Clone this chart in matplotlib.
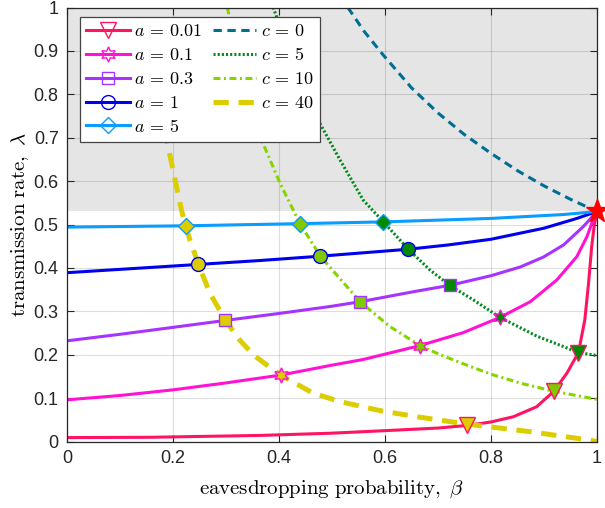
import matplotlib
matplotlib.use("Agg")
import matplotlib.pyplot as plt

plt.rcParams['mathtext.fontset'] = 'cm'
plt.rcParams['font.family'] = ['Liberation Sans', 'DejaVu Sans']
plt.rcParams['lines.scale_dashes'] = False

# solid curves, one per a  (beta, lambda)
a_labels = ["0.01", "0.1", "0.3", "1", "5"]
a_colors = ["#ff1462", "#ff12d4", "#a633ff", "#0000f0", "#0a9cff"]
a_markers = ["v", (6, 1, 0), "s", "o", "D"]
a_msize = [12, 11, 8, 10, 8.5]

a001_b = [0, 0.157, 0.364, 0.496, 0.6, 0.7, 0.755, 0.8, 0.842, 0.886, 0.918, 0.943, 0.965, 0.977, 0.984, 0.99, 0.995, 1]
a001_l = [0.009, 0.0097, 0.014, 0.019, 0.025, 0.031, 0.037, 0.045, 0.057, 0.080, 0.115, 0.157, 0.205, 0.280, 0.364, 0.449, 0.50, 0.53]
a01_b = [0, 0.1, 0.2, 0.3, 0.403, 0.496, 0.559, 0.666, 0.748, 0.817, 0.874, 0.924, 0.962, 0.981, 0.993, 1]
a01_l = [0.096, 0.106, 0.119, 0.135, 0.153, 0.175, 0.189, 0.221, 0.251, 0.286, 0.322, 0.372, 0.426, 0.472, 0.512, 0.53]
a03_b = [0, 0.1, 0.2, 0.299, 0.4, 0.496, 0.553, 0.653, 0.723, 0.8, 0.855, 0.899, 0.937, 0.974, 1]
a03_l = [0.232, 0.247, 0.263, 0.279, 0.295, 0.311, 0.322, 0.345, 0.36, 0.382, 0.402, 0.425, 0.453, 0.495, 0.53]
a1_b = [0, 0.157, 0.248, 0.364, 0.478, 0.644, 0.72, 0.8, 0.9, 0.962, 1]
a1_l = [0.389, 0.401, 0.408, 0.417, 0.427, 0.443, 0.453, 0.466, 0.4915, 0.514, 0.53]
a5_b = [0, 0.224, 0.44, 0.597, 0.8, 0.937, 1]
a5_l = [0.494, 0.497, 0.502, 0.506, 0.514, 0.523, 0.53]
a_beta = [a001_b, a01_b, a03_b, a1_b, a5_b]
a_lam = [a001_l, a01_l, a03_l, a1_l, a5_l]

# dashed curves, one per c
c_labels = ["0", "5", "10", "40"]
c_colors = ["#006e92", "#008a1c", "#88d400", "#dccd00"]
c_face = [None, "#008a00", "#80c800", "#dccc00"]
c_dashes = [(6, 4), (1.5, 1.5), (5, 2.5, 1.5, 2.5), (11, 7)]
c_lw = [2.2, 2.2, 2.2, 3.6]

c0_b = [0.53, 0.56, 0.597, 0.65, 0.7, 0.75, 0.8, 0.85, 0.9, 0.95, 1]
c0_l = [1.0, 0.946, 0.89, 0.815, 0.757, 0.707, 0.664, 0.624, 0.589, 0.558, 0.53]
c5_b = [0.389, 0.41, 0.44, 0.465, 0.515, 0.559, 0.597, 0.644, 0.685, 0.723, 0.767, 0.817, 0.886, 0.93, 0.965, 1]
c5_l = [1.0, 0.93, 0.84, 0.76, 0.649, 0.556, 0.506, 0.443, 0.395, 0.359, 0.326, 0.286, 0.243, 0.222, 0.205, 0.198]
c10_b = [0.3025, 0.32, 0.345, 0.367, 0.402, 0.44, 0.478, 0.553, 0.609, 0.666, 0.704, 0.75, 0.8, 0.86, 0.918, 1]
c10_l = [1.0, 0.9, 0.79, 0.695, 0.595, 0.501, 0.427, 0.322, 0.265, 0.221, 0.200, 0.178, 0.155, 0.133, 0.116, 0.097]
c40_b = [0.165, 0.175, 0.188, 0.2, 0.216, 0.224, 0.232, 0.248, 0.27, 0.299, 0.325, 0.352, 0.403, 0.465,
         0.515, 0.591, 0.66, 0.755, 0.874, 0.987, 1]
c40_l = [0.95, 0.80, 0.695, 0.626, 0.533, 0.497, 0.464, 0.408, 0.341, 0.279, 0.235, 0.199, 0.153, 0.111,
         0.092, 0.071, 0.057, 0.040, 0.0226, 0.003, 0.0]
c_beta = [c0_b, c5_b, c10_b, c40_b]
c_lam = [c0_l, c5_l, c10_l, c40_l]

# crossing points of each a curve with c = 40, 10, 5
cross_c = [3, 2, 1]
cross_b = [[0.755, 0.918, 0.965], [0.403, 0.666, 0.817], [0.299, 0.553, 0.723],
           [0.248, 0.478, 0.644], [0.224, 0.44, 0.597]]
cross_l = [[0.038, 0.116, 0.205], [0.153, 0.221, 0.286], [0.279, 0.322, 0.36],
           [0.408, 0.427, 0.443], [0.497, 0.502, 0.506]]
top_b, top_l = 1.0, 0.53

fig = plt.figure(figsize=(6.05, 5.08), dpi=100)
ax = fig.add_axes([67 / 605, 66.5 / 508, 530 / 605, 434 / 508])

ax.fill_between([0, 1], top_l, 1, color="#e5e5e5", lw=0, zorder=0.1)

handles = []
for i in range(5):
    h, = ax.plot(a_beta[i], a_lam[i], color=a_colors[i], lw=2.2, marker=a_markers[i],
                 markersize=a_msize[i], markerfacecolor="none", markeredgecolor=a_colors[i],
                 markevery=[], label=r"$a\,=\,%s$" % a_labels[i], zorder=2)
    handles.append(h)
for j in range(4):
    h, = ax.plot(c_beta[j], c_lam[j], color=c_colors[j], lw=c_lw[j], dashes=c_dashes[j],
                 label=r"$c\,=\,%s$" % c_labels[j], zorder=2.2)
    handles.append(h)

for i in range(5):
    for k in range(3):
        ax.plot(cross_b[i][k], cross_l[i][k], marker=a_markers[i], markersize=a_msize[i],
                markerfacecolor=c_face[cross_c[k]], markeredgecolor=a_colors[i],
                markeredgewidth=1.0, ls="none", zorder=3, clip_on=False)
ax.plot(top_b, top_l, marker="*", markersize=17, color="#ff0000", ls="none", zorder=3.5, clip_on=False)

ax.set_xlim(0, 1)
ax.set_ylim(0, 1)
ax.set_xticks([0, 0.2, 0.4, 0.6, 0.8, 1])
ax.set_xticklabels(["0", "0.2", "0.4", "0.6", "0.8", "1"])
ax.set_yticks([i / 10 for i in range(11)])
ax.set_yticklabels(["0", "0.1", "0.2", "0.3", "0.4", "0.5", "0.6", "0.7", "0.8", "0.9", "1"])
ax.grid(True, color="#000000", alpha=0.13, lw=0.8)
ax.tick_params(direction="in", top=True, right=True, length=5, width=0.8,
               labelsize=13, colors="#262626", pad=6)
for s in ax.spines.values():
    s.set_color("#262626")
    s.set_linewidth(0.9)

ax.set_xlabel(r"$\mathrm{eavesdropping\ probability,}\ \beta$", fontsize=15, labelpad=8)
ax.set_ylabel(r"$\mathrm{transmission\ rate,}\ \lambda$", fontsize=15, labelpad=2)

leg = ax.legend(handles=handles, ncol=2, loc="upper left", bbox_to_anchor=(0.0245, 0.978),
                borderaxespad=0, fontsize=13, fancybox=False, framealpha=1,
                edgecolor="#444444", handlelength=2.4, handletextpad=0.25,
                columnspacing=0.6, labelspacing=0.38, borderpad=0.35)
leg.get_frame().set_linewidth(0.9)
leg.set_zorder(5)

fig.savefig("out.png", dpi=100)
